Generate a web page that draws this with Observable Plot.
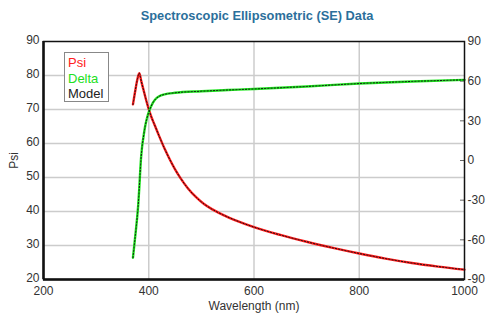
<!DOCTYPE html>
<html><head><meta charset="utf-8">
<script src="https://cdn.jsdelivr.net/npm/d3@7"></script>
<script src="https://cdn.jsdelivr.net/npm/@observablehq/plot@0.6"></script>
<style>
body{margin:0;background:#fff;font-family:"Liberation Sans",Arial,sans-serif;}
#wrap{position:relative;width:492px;height:323px;overflow:hidden;}
#title{height:30px;line-height:31px;text-align:center;font-weight:bold;font-size:12.8px;color:#2b6f9b;padding-left:22px;}
#legend{position:absolute;left:64px;top:52px;width:40px;height:46px;border:1px solid #888;background:#fff;font-size:13px;line-height:15.5px;padding:2px 0 0 3px;}
</style></head>
<body>
<div id="wrap">
<div id="title">Spectroscopic Ellipsometric (SE) Data</div>
<div id="chart"></div>
<div id="legend"><div style="color:#ff2020">Psi</div><div style="color:#22e022">Delta</div><div style="color:#222">Model</div></div>
</div>
<script>
const wavelengthPsi = [370,374,378,382,386,390,395,400,405,410,420,430,440,450,460,475,490,505,520,540,570,600,650,700,750,800,850,900,950,1000];
const psi = [71.5,75.2,78.6,80.7,78.2,75.8,72.8,70.1,67.8,65.9,62.1,58.5,55.3,52.4,49.9,46.7,44.2,42.2,40.7,39.1,37.1,35.4,33.1,31.1,29.3,27.65,26.15,24.85,23.8,22.9];
const modelPsi = psi.slice();
const wavelengthDelta = [370,372,374,376,378,380,382,383.5,385,386.5,388,390,393,396,400,404,408,413,420,430,450,500,550,600,700,800,900,1000];
const delta = [-73.5,-66,-58.5,-51,-43,-33.5,-21,-10,0,7,12.5,18,25.5,31,36.5,40.5,43.8,46.5,48.6,50,51.2,52.4,53.3,54.1,56,58.2,59.8,61];
const modelDelta = delta.slice();
const xTicks = [200,400,600,800,1000];
const psiTicks = [20,30,40,50,60,70,80,90];
const deltaTicks = [-90,-60,-30,0,30,60,90];

const toPsi = d => 20 + (d + 90) * 70 / 180;
const fromPsi = p => String(Math.round((p - 20) * 180 / 70 - 90));

const psiData = wavelengthPsi.map((w, i) => ({w, v: psi[i], m: modelPsi[i]}));
const deltaData = wavelengthDelta.map((w, i) => ({w, v: delta[i], m: modelDelta[i]}));

const chart = Plot.plot({
  width: 492, height: 293,
  marginTop: 11, marginLeft: 43, marginRight: 28, marginBottom: 44,
  style: {fontFamily: "Liberation Sans, Arial, sans-serif", fontSize: "12px", color: "#333", background: "white"},
  x: {domain: [200, 1000], label: null},
  y: {domain: [20, 90], label: null},
  marks: [
    Plot.gridX([400,600,800], {stroke: "#cccccc", strokeOpacity: 1, strokeWidth: 1.5}),
    Plot.gridY([30,40,50,60,70,80], {stroke: "#cccccc", strokeOpacity: 1, strokeWidth: 1.5}),
    Plot.axisX(xTicks, {tickSize: 0, tickPadding: 7, tickFormat: d => String(d), label: "Wavelength (nm)", labelAnchor: "center", labelOffset: 30, labelArrow: "none"}),
    Plot.axisY(psiTicks, {anchor: "left", tickSize: 0, tickPadding: 4, dy: -1, label: "Psi", labelAnchor: "center", labelOffset: 34, labelArrow: "none"}),
    Plot.axisY(deltaTicks.map(toPsi), {anchor: "right", tickSize: 5, insetRight: 5, tickPadding: 3, tickFormat: fromPsi, label: null, stroke: "#666"}),
    Plot.line(psiData, {x: "w", y: "v", stroke: "#ff1a1a", strokeWidth: 2.4, curve: "monotone-x"}),
    Plot.line(deltaData, {x: "w", y: d => toPsi(d.v), stroke: "#1ee61e", strokeWidth: 2.4, curve: "monotone-x"}),
    Plot.line(psiData, {x: "w", y: "m", stroke: "#111", strokeWidth: 1, strokeDasharray: "1.2,2", curve: "monotone-x"}),
    Plot.line(deltaData, {x: "w", y: d => toPsi(d.m), stroke: "#111", strokeWidth: 1, strokeDasharray: "1.2,2", curve: "monotone-x"}),
    Plot.frame({stroke: "#111", strokeWidth: 1.5}),
    Plot.ruleX([200], {stroke: "#111", strokeWidth: 2.5}),
    Plot.ruleY([20], {stroke: "#111", strokeWidth: 2.5})
  ]
});
document.getElementById("chart").appendChild(chart);
</script>
</body></html>
